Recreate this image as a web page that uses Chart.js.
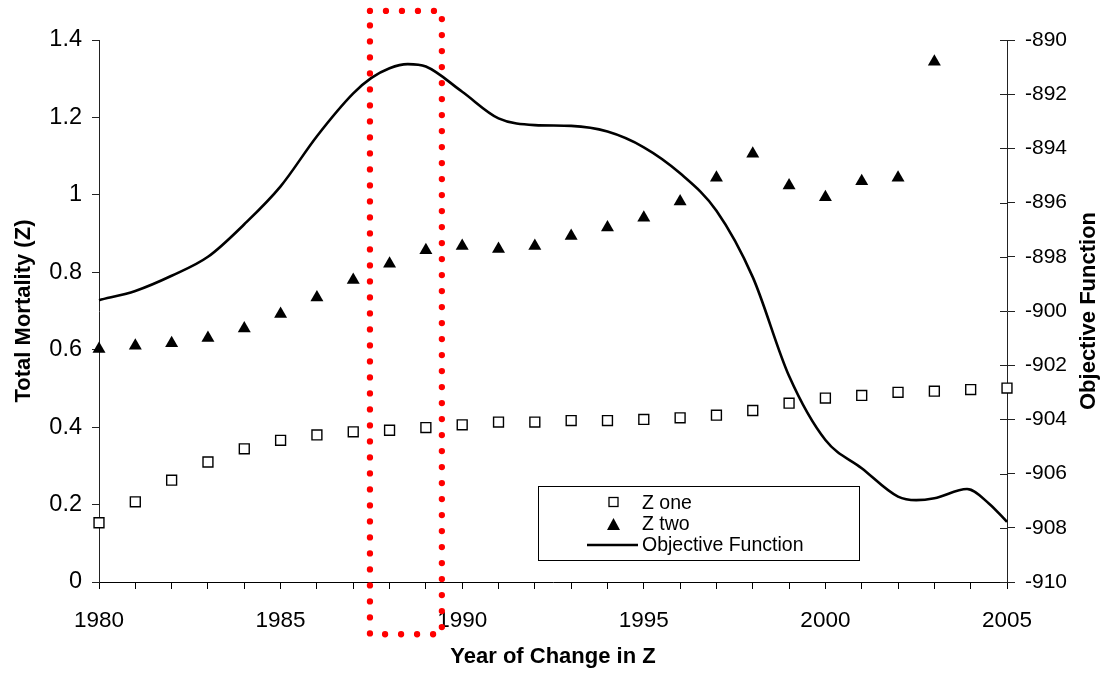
<!DOCTYPE html>
<html>
<head>
<meta charset="utf-8">
<script src="https://cdn.jsdelivr.net/npm/chart.js@4/dist/chart.umd.min.js"></script>
<style>
  html, body { margin: 0; padding: 0; background: #fff; }
  #wrap { width: 1105px; height: 675px; position: relative; }
</style>
</head>
<body>
<div id="wrap"><canvas id="c" width="1105" height="675"></canvas></div>
<script>
// ---- Data ----
const zOneYears = [1980,1981,1982,1983,1984,1985,1986,1987,1988,1989,1990,1991,1992,1993,1994,1995,1996,1997,1998,1999,2000,2001,2002,2003,2004,2005];
const zOneValues = [0.153,0.207,0.263,0.31,0.344,0.366,0.38,0.388,0.392,0.399,0.406,0.413,0.413,0.417,0.417,0.42,0.424,0.431,0.443,0.462,0.475,0.482,0.49,0.493,0.497,0.501];

const zTwoYears = [1980,1981,1982,1983,1984,1985,1986,1987,1988,1989,1990,1991,1992,1993,1994,1995,1996,1997,1998,1999,2000,2001,2002,2003];
const zTwoValues = [0.602,0.61,0.617,0.63,0.655,0.692,0.735,0.78,0.822,0.857,0.868,0.86,0.868,0.894,0.916,0.941,0.983,1.044,1.106,1.024,0.994,1.035,1.044,1.344];

const objYears = [1980,1981,1982,1983,1984,1985,1986,1987,1987.5,1988,1988.5,1989,1990,1991,1992,1993,1994,1995,1996,1997,1998,1999,2000,2001,2002,2002.5,2003,2003.9,2004.5,2005];
const objValues = [-899.6,-899.26,-898.7,-898.0,-896.8,-895.4,-893.55,-891.97,-891.4,-891.04,-890.89,-890.98,-891.91,-892.89,-893.14,-893.17,-893.38,-893.96,-894.92,-896.3,-898.75,-902.4,-904.76,-905.8,-906.85,-906.98,-906.91,-906.57,-907.1,-907.78];

const seriesNames = ['Z one', 'Z two', 'Objective Function'];
const xTickLabels = ['1980', '1985', '1990', '1995', '2000', '2005'];
const yLeftTickLabels = ['0', '0.2', '0.4', '0.6', '0.8', '1', '1.2', '1.4'];
const yRightTickLabels = ['-910', '-908', '-906', '-904', '-902', '-900', '-898', '-896', '-894', '-892', '-890'];

// highlighted region (dotted red box) in data units: years and left-axis values
const boxYears = [1987.46, 1989.44];
const boxValues = [1.475, -0.135];

const toPoints = (xs, ys) => xs.map((x, i) => ({ x: x, y: ys[i] }));

const FAM = '"Liberation Sans", Arial, sans-serif';
const titleFont = { family: FAM, size: 22, weight: 'bold' };

const overlayPlugin = {
  id: 'overlay',
  afterDraw(chart) {
    const ctx = chart.ctx;
    const xs = chart.scales.x, y = chart.scales.y, y2 = chart.scales.y2;
    const area = chart.chartArea;
    ctx.save();
    // inner half of right-axis ticks (crossing ticks)
    ctx.strokeStyle = '#222';
    ctx.lineWidth = 1;
    y2.ticks.forEach((t, i) => {
      const py = Math.round(y2.getPixelForTick(i)) + 0.5;
      ctx.beginPath();
      ctx.moveTo(area.right - 7, py);
      ctx.lineTo(area.right, py);
      ctx.stroke();
    });
    // right axis title, reading bottom to top
    ctx.save();
    ctx.translate(1089, (area.top + area.bottom) / 2);
    ctx.rotate(-Math.PI / 2);
    ctx.font = 'bold 22px ' + FAM;
    ctx.fillStyle = '#000';
    ctx.textAlign = 'center';
    ctx.textBaseline = 'middle';
    ctx.fillText('Objective Function', 0, 0);
    ctx.restore();

    // legend
    const lx = 538, ly = 486, lw = 321, lh = 74;
    ctx.fillStyle = '#fff';
    ctx.fillRect(lx, ly, lw, lh);
    ctx.strokeStyle = '#000';
    ctx.lineWidth = 1;
    ctx.strokeRect(lx + 0.5, ly + 0.5, lw, lh);
    ctx.font = '19.5px ' + FAM;
    ctx.textAlign = 'left';
    ctx.textBaseline = 'alphabetic';
    ctx.fillStyle = '#000';
    const rows = [509, 530, 551];
    // square
    ctx.lineWidth = 1.3;
    ctx.strokeRect(609, 497.5, 9, 9);
    // triangle
    ctx.beginPath();
    ctx.moveTo(613.5, 518);
    ctx.lineTo(620, 530);
    ctx.lineTo(607, 530);
    ctx.closePath();
    ctx.fill();
    // line
    ctx.lineWidth = 2.5;
    ctx.beginPath();
    ctx.moveTo(587, 545);
    ctx.lineTo(638, 545);
    ctx.stroke();
    seriesNames.forEach((n, i) => ctx.fillText(n, 642, rows[i]));

    // red dotted rectangle
    const x0 = xs.getPixelForValue(boxYears[0]);
    const x1 = xs.getPixelForValue(boxYears[1]);
    const yt = y.getPixelForValue(boxValues[0]);
    const yb = y.getPixelForValue(boxValues[1]);
    ctx.strokeStyle = '#ff0000';
    ctx.lineWidth = 6.3;
    ctx.lineCap = 'round';
    ctx.setLineDash([0, 16]);
    ctx.beginPath();
    ctx.moveTo(x0, yt);
    ctx.lineTo(x1, yt);
    ctx.lineTo(x1, yb);
    ctx.lineTo(x0, yb);
    ctx.closePath();
    ctx.stroke();
    ctx.restore();
  }
};

new Chart(document.getElementById('c'), {
  type: 'scatter',
  data: {
    datasets: [
      {
        label: seriesNames[0],
        data: toPoints(zOneYears, zOneValues),
        yAxisID: 'y',
        pointStyle: 'rect',
        pointRadius: 7,
        pointBorderWidth: 1.4,
        pointBorderColor: '#000',
        pointBackgroundColor: '#fff',
        showLine: false,
        clip: false,
        order: 2
      },
      {
        label: seriesNames[1],
        data: toPoints(zTwoYears, zTwoValues),
        yAxisID: 'y',
        pointStyle: 'triangle',
        pointRadius: 7.5,
        pointBorderWidth: 0,
        pointBorderColor: '#000',
        pointBackgroundColor: '#000',
        showLine: false,
        clip: false,
        order: 1
      },
      {
        label: seriesNames[2],
        data: toPoints(objYears, objValues),
        yAxisID: 'y2',
        showLine: true,
        borderColor: '#000',
        borderWidth: 2.6,
        pointRadius: 0,
        cubicInterpolationMode: 'monotone',
        fill: false,
        clip: false,
        order: 3
      }
    ]
  },
  options: {
    responsive: false,
    animation: false,
    events: [],
    layout: { padding: { top: 40, left: 0, right: 0, bottom: 0 } },
    plugins: { legend: { display: false }, tooltip: { enabled: false } },
    scales: {
      x: {
        type: 'linear',
        position: 'bottom',
        min: 1980, max: 2005,
        afterFit: (s) => { s.height = 93; },
        grid: { drawOnChartArea: false, drawTicks: true, tickLength: 7, color: '#000', tickColor: '#000' },
        border: { display: true, color: '#000', width: 1 },
        ticks: {
          stepSize: 1, autoSkip: false, maxRotation: 0, color: '#000', font: { family: FAM, size: 22.5 }, padding: 18,
          callback: (v) => { const s = String(v); return xTickLabels.includes(s) ? s : ''; }
        },
        title: { display: true, text: 'Year of Change in Z', color: '#000', font: titleFont, padding: { top: 0, bottom: 5 } }
      },
      y: {
        position: 'left',
        min: 0, max: 1.4,
        afterFit: (s) => { s.width = 99; },
        grid: { drawOnChartArea: false, drawTicks: true, tickLength: 7, color: '#222', tickColor: '#222' },
        border: { display: true, color: '#222', width: 1 },
        ticks: {
          stepSize: 0.2, color: '#000', font: { family: FAM, size: 23.5 }, padding: 10,
          callback: (v, i) => yLeftTickLabels[i]
        },
        title: { display: true, text: 'Total Mortality (Z)', color: '#000', font: titleFont, padding: { top: 11, bottom: 0 } }
      },
      y2: {
        position: 'right',
        min: -910, max: -890,
        afterFit: (s) => { s.width = 98; },
        grid: { drawOnChartArea: false, drawTicks: true, tickLength: 8, color: '#222', tickColor: '#222' },
        border: { display: true, color: '#222', width: 1 },
        ticks: {
          stepSize: 2, color: '#000', font: { family: FAM, size: 21 }, padding: 10,
          callback: (v, i) => yRightTickLabels[i]
        }
      }
    }
  },
  plugins: [overlayPlugin]
});
</script>
</body>
</html>
